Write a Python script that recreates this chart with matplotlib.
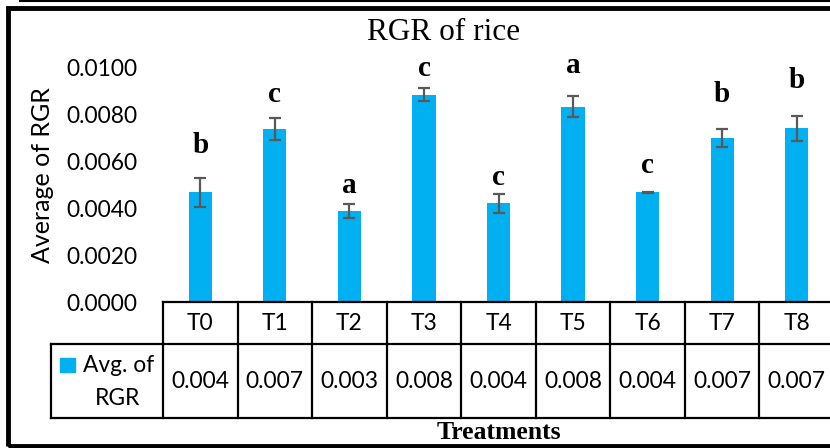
import math
import matplotlib
matplotlib.use("Agg")
import matplotlib.pyplot as plt
from matplotlib.lines import Line2D
from matplotlib.patches import Rectangle
import matplotlib.transforms as mtransforms

# Relative growth rate of rice per treatment
treatments = ["T0", "T1", "T2", "T3", "T4", "T5", "T6", "T7", "T8"]
avg_rgr = [0.00469, 0.00738, 0.00389, 0.00885, 0.00422, 0.00835, 0.00469, 0.00701, 0.00742]
rgr_err = [0.00063, 0.00047, 0.00028, 0.00028, 0.00040, 0.00044, 0.00003, 0.00039, 0.00055]
letters = ["b", "c", "a", "c", "c", "a", "c", "b", "b"]
letter_y = [0.00635, 0.00856, 0.00465, 0.00966, 0.00500, 0.00980, 0.00553, 0.00856, 0.00913]
y_ticks = [0.0, 0.002, 0.004, 0.006, 0.008, 0.010]

BAR = "#00B0F0"
ERR = "#595959"
SANS = "Lato"
SERIF = "Liberation Serif"

W, H = 830, 448
fig = plt.figure(figsize=(W / 100, H / 100), dpi=100)

ax_l, ax_r, ax_t, ax_b = 163, 834, 68, 302
ax = fig.add_axes([ax_l / W, 1 - ax_b / H, (ax_r - ax_l) / W, (ax_b - ax_t) / H])

x = list(range(len(treatments)))
ax.bar(x, avg_rgr, width=0.31, color=BAR, zorder=2)
ax.errorbar(x, avg_rgr, yerr=rgr_err, fmt="none", ecolor=ERR, elinewidth=1.6,
            capsize=4.5, capthick=1.6, zorder=3, clip_on=False)

for xi, lab, ly in zip(x, letters, letter_y):
    ax.text(xi, ly, lab, ha="center", va="baseline", fontsize=21,
            fontweight="bold", family=SERIF, clip_on=False)

ax.set_xlim(-0.5, len(treatments) - 0.5)
ax.set_ylim(0, 0.010)
ax.set_yticks(y_ticks)
ax.set_yticklabels([f"{v:.4f}" for v in y_ticks], family=SANS, fontsize=16.4)
ax.tick_params(axis="y", length=0, pad=18.5)
ax.set_xticks([])
for s in ax.spines.values():
    s.set_visible(False)

fig.text(42 / W, 1 - 175 / H, "Average of RGR", rotation=90, ha="center",
         va="center", family=SANS, fontsize=18)
fig.text(444 / W, 1 - 32 / H, "RGR of rice", ha="center", va="center",
         family=SERIF, fontsize=22.5)

# Data table below the bars (x in data units, y in axes fraction)
trans = mtransforms.blended_transform_factory(ax.transData, ax.transAxes)
axh = ax_b - ax_t
r1 = -(344 - ax_b) / axh
r2 = -(418 - ax_b) / axh
n = len(treatments)
lw = 1.6
right = n - 0.4
lines = [
    ((-0.5, right), (0, 0)),
    ((-2.0, right), (r1, r1)),
    ((-2.0, right), (r2, r2)),
    ((-2.0, -2.0), (r1, r2)),
]
for i in range(n):
    lines.append(((i - 0.5, i - 0.5), (0, r2)))
for xs, ys in lines:
    ax.add_line(Line2D(xs, ys, transform=trans, color="black", lw=lw,
                       clip_on=False, solid_capstyle="projecting"))

for xi, t, v in zip(x, treatments, avg_rgr):
    ax.text(xi, r1 / 2, t, transform=trans, ha="center", va="center",
            family=SANS, fontsize=16.4, clip_on=False)
    shown = math.floor(v * 1000) / 1000
    ax.text(xi, (r1 + r2) / 2, f"{shown:.3f}", transform=trans, ha="center",
            va="center", family=SANS, fontsize=16.4, clip_on=False)

# Legend key inside the table
fig.patches.append(Rectangle((60 / W, 1 - 372 / H), 15 / W, 14 / H,
                             transform=fig.transFigure, color=BAR))
fig.text(119 / W, 1 - 372 / H, "Avg. of", ha="center", va="baseline",
         family=SANS, fontsize=16.4)
fig.text(118 / W, 1 - 405 / H, "RGR", ha="center", va="baseline",
         family=SANS, fontsize=16.4)

fig.text(ax_l / W + (ax_r - ax_l) / W / 2, 1 - 432 / H, "Treatments",
         ha="center", va="center", family=SERIF, fontweight="bold", fontsize=18.5)

# Outer frame
fig.patches.append(Rectangle((7.5 / W, 1 - 446 / H), 900 / W, 438 / H,
                             transform=fig.transFigure, fill=False,
                             edgecolor="black", lw=3.5))
fig.add_artist(Line2D([20 / W, 1.0], [1 - 1 / H, 1 - 1 / H],
                      transform=fig.transFigure, color="black", lw=1.5))

fig.savefig("out.png", dpi=100)
